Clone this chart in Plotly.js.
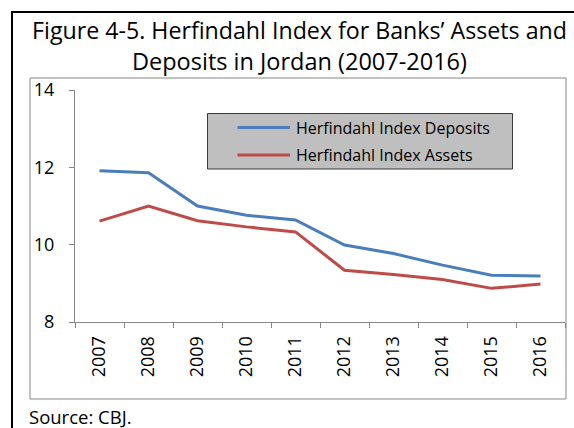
<!DOCTYPE html>
<html>
<head>
<meta charset="utf-8">
<script src="https://cdn.plot.ly/plotly-3.0.1.min.js"></script>
<style>html,body{margin:0;padding:0;background:#fff;}#chart{width:574px;height:428px;}</style>
</head>
<body>
<div id="chart"></div>
<script>
var years = ["2007","2008","2009","2010","2011","2012","2013","2014","2015","2016"];
var deposits = [11.91, 11.86, 11.00, 10.76, 10.64, 9.99, 9.77, 9.47, 9.21, 9.19];
var assets = [10.61, 11.00, 10.62, 10.46, 10.33, 9.34, 9.23, 9.10, 8.87, 8.98];
var seriesNames = ["Herfindahl Index Deposits", "Herfindahl Index Assets"];
var yTicks = [8, 10, 12, 14];

var FONT = "'Open Sans', Lato, sans-serif";
var blue = "#4a7ebb", red = "#be4b48", axisGrey = "#868686";

// pixel -> paper helpers (plot area: x 75..565, y 90..322)
function px(x){ return (x - 75) / 490; }
function py(y){ return (322 - y) / 232; }

var traces = [
  {x: years, y: deposits, name: seriesNames[0], type: "scatter", mode: "lines",
   line: {color: blue, width: 3}},
  {x: years, y: assets, name: seriesNames[1], type: "scatter", mode: "lines",
   line: {color: red, width: 3}}
];

var layout = {
  width: 574, height: 428,
  margin: {l: 75, r: 9, t: 90, b: 106},
  paper_bgcolor: "#fff", plot_bgcolor: "#fff",
  showlegend: false,
  font: {family: FONT, color: "#000"},
  title: {text: "Figure 4-5. Herfindahl Index for Banks\u2019 Assets and",
          font: {family: FONT, size: 23.2, color: "#000"},
          xref: "container", yref: "container", x: 299.5/574, xanchor: "center",
          y: 1 - 30.5/428, yanchor: "middle"},
  xaxis: {
    type: "category", range: [-0.5, 9.5],
    showline: true, linecolor: axisGrey, linewidth: 1,
    ticks: "outside", ticklen: 5, tickcolor: axisGrey, tickson: "boundaries",
    tickangle: -90, tickfont: {family: FONT, size: 18, color: "#000"},
    ticklabelstandoff: 6,
    showgrid: false, zeroline: false, fixedrange: true
  },
  yaxis: {
    range: [8, 14], tickvals: yTicks, ticktext: yTicks.map(String),
    showline: true, linecolor: axisGrey, linewidth: 1,
    ticks: "outside", ticklen: 5, tickcolor: axisGrey,
    tickfont: {family: FONT, size: 18, color: "#000"},
    ticklabelstandoff: 11,
    showgrid: false, zeroline: false, fixedrange: true
  },
  shapes: [
    // outer frame
    {type: "rect", xref: "paper", yref: "paper", x0: px(12), x1: px(620), y0: py(470), y1: py(12),
     line: {color: "#000", width: 2}, fillcolor: "rgba(0,0,0,0)"},
    // inner chart frame
    {type: "rect", xref: "paper", yref: "paper", x0: px(30), x1: px(566), y0: py(399), y1: py(78),
     line: {color: axisGrey, width: 1}, fillcolor: "rgba(0,0,0,0)"},
    // legend box
    {type: "rect", xref: "paper", yref: "paper", x0: px(207.5), x1: px(512.5), y0: py(169), y1: py(113.5),
     line: {color: "#3a3a3a", width: 1}, fillcolor: "#bfbfbf"},
    {type: "line", xref: "paper", yref: "paper", x0: px(237.5), x1: px(290), y0: py(127.5), y1: py(127.5),
     line: {color: blue, width: 3}},
    {type: "line", xref: "paper", yref: "paper", x0: px(237.5), x1: px(290), y0: py(155), y1: py(155),
     line: {color: red, width: 3}}
  ],
  annotations: [
    {text: "Deposits in Jordan (2007-2016)", xref: "paper", yref: "paper",
     x: px(299.5), y: py(61), xanchor: "center", yanchor: "middle", showarrow: false,
     font: {family: FONT, size: 23.5, color: "#000"}},
    {text: seriesNames[0], xref: "paper", yref: "paper", x: px(294), y: py(127.5),
     xanchor: "left", yanchor: "middle", showarrow: false,
     font: {family: FONT, size: 16, color: "#000"}},
    {text: seriesNames[1], xref: "paper", yref: "paper", x: px(294), y: py(155),
     xanchor: "left", yanchor: "middle", showarrow: false,
     font: {family: FONT, size: 16, color: "#000"}},
    {text: "Source: CBJ.", xref: "paper", yref: "paper", x: px(27), y: py(416),
     xanchor: "left", yanchor: "middle", showarrow: false,
     font: {family: FONT, size: 18.5, color: "#000"}}
  ]
};

Plotly.newPlot("chart", traces, layout, {displayModeBar: false, staticPlot: true});
</script>
</body>
</html>
